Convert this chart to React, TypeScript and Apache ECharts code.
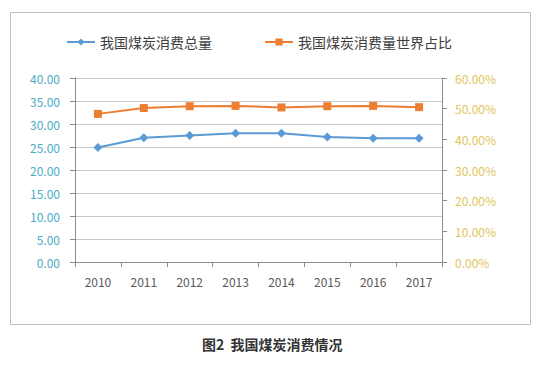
import React, { useEffect, useRef } from "react";
import * as echarts from "echarts";

const years = ["2010", "2011", "2012", "2013", "2014", "2015", "2016", "2017"];
const totalConsumption = [24.9, 27.0, 27.5, 28.0, 28.0, 27.2, 26.9, 26.9];
const worldShare = [48.3, 50.2, 50.8, 50.9, 50.4, 50.8, 50.9, 50.5];
const seriesNames = ["我国煤炭消费总量", "我国煤炭消费量世界占比"];
const caption = "图2  我国煤炭消费情况";

export default function App() {
  const ref = useRef<HTMLDivElement>(null);
  useEffect(() => {
    if (!ref.current) return;
    const chart = echarts.init(ref.current, undefined, { renderer: "svg" });
    const font = "'Noto Sans CJK SC', 'Noto Sans', sans-serif";
    chart.setOption({
      animation: false,
      backgroundColor: "#ffffff",
      textStyle: { fontFamily: font },
      legend: {
        left: 61,
        top: 30,
        itemGap: 52,
        itemWidth: 28,
        itemHeight: 9,
        textStyle: { fontSize: 14, color: "#404040", fontFamily: font },
        data: seriesNames,
      },
      grid: { left: 75, right: 116, top: 78, bottom: 107 },
      xAxis: {
        type: "category",
        data: years,
        boundaryGap: true,
        axisLine: { lineStyle: { color: "#8c8c8c" } },
        axisTick: { show: true, length: 5, lineStyle: { color: "#8c8c8c" } },
        axisLabel: { color: "#595959", fontSize: 12, margin: 13, fontFamily: font },
      },
      yAxis: [
        {
          type: "value",
          min: 0,
          max: 40,
          interval: 5,
          axisLine: { show: true, lineStyle: { color: "#8c8c8c" } },
          axisTick: { show: true, length: 5, lineStyle: { color: "#8c8c8c" } },
          axisLabel: {
            color: "#4BACC6",
            fontSize: 12,
            margin: 15,
            fontFamily: font,
            formatter: (v: number) => v.toFixed(2),
          },
          splitLine: { show: true, lineStyle: { color: "#c8c8c8" } },
        },
        {
          type: "value",
          min: 0,
          max: 60,
          interval: 10,
          position: "right",
          axisLine: { show: true, lineStyle: { color: "#8c8c8c" } },
          axisTick: { show: true, length: 5, lineStyle: { color: "#8c8c8c" } },
          axisLabel: {
            color: "#E2C458",
            fontSize: 12,
            margin: 13,
            fontFamily: font,
            formatter: (v: number) => v.toFixed(2) + "%",
          },
          splitLine: { show: false },
        },
      ],
      series: [
        {
          name: seriesNames[0],
          type: "line",
          yAxisIndex: 0,
          data: totalConsumption,
          symbol: "diamond",
          symbolSize: 9,
          lineStyle: { width: 2, color: "#5B9BD5" },
          itemStyle: { color: "#5B9BD5" },
        },
        {
          name: seriesNames[1],
          type: "line",
          yAxisIndex: 1,
          data: worldShare,
          symbol: "rect",
          symbolSize: 8,
          lineStyle: { width: 2, color: "#ED7D31" },
          itemStyle: { color: "#ED7D31" },
        },
      ],
      graphic: [
        {
          type: "rect",
          shape: { x: 10.5, y: 12.5, width: 520, height: 312 },
          style: { fill: "none", stroke: "#bfbfbf", lineWidth: 1 },
          silent: true,
          z: -1,
        },
        {
          type: "text",
          left: 202,
          top: 337,
          style: {
            text: caption,
            font: "bold 14px 'Noto Sans CJK SC', sans-serif",
            fill: "#333333",
          },
        },
      ],
    });
    return () => chart.dispose();
  }, []);
  return (
    <div
      ref={ref}
      style={{ position: "fixed", left: 0, top: 0, width: 558, height: 369 }}
    />
  );
}
